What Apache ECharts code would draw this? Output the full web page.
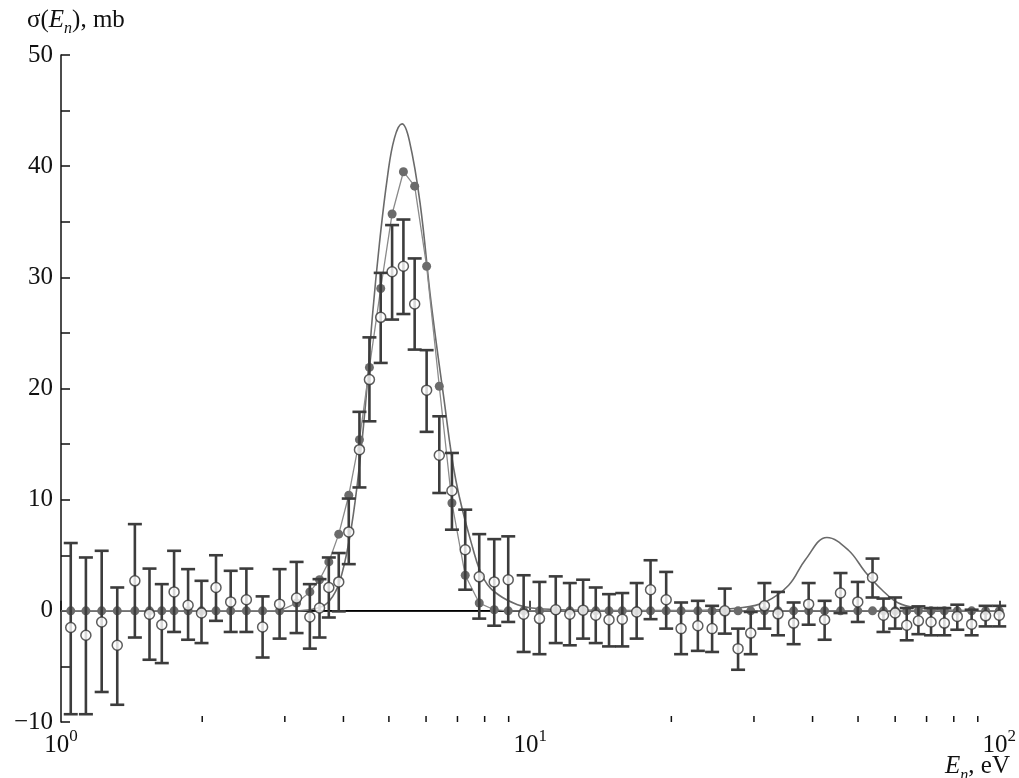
<!DOCTYPE html>
<html>
<head>
<meta charset="utf-8">
<script src="https://cdn.jsdelivr.net/npm/echarts@6/dist/echarts.min.js"></script>
<style>
  html, body { margin: 0; padding: 0; background: #fff; }
  #chart { width: 1019px; height: 778px; }
</style>
</head>
<body>
<div id="chart"></div>
<script>
// neutron energy of each measured point, eV
const energy = [1.049, 1.130, 1.221, 1.318, 1.437, 1.544, 1.640, 1.742, 1.866, 1.993,
  2.140, 2.300, 2.484, 2.690, 2.924, 3.178, 3.392, 3.557, 3.723, 3.909,
  4.106, 4.327, 4.544, 4.803, 5.079, 5.369, 5.674, 6.017, 6.403, 6.813,
  7.272, 7.790, 8.385, 8.981, 9.687, 10.47, 11.34, 12.15, 12.97, 13.80,
  14.73, 15.72, 16.87, 18.06, 19.50, 20.98, 22.78, 24.43, 26.00, 27.75,
  29.53, 31.58, 33.76, 36.45, 39.24, 42.44, 45.88, 49.94, 53.69, 56.65,
  59.99, 63.50, 67.25, 71.55, 76.38, 81.39, 87.33, 93.52, 100.0]

// open circles (measured) with error bar ends
const measured = [-1.5, -2.2, -1.0, -3.1, 2.7, -0.3, -1.25, 1.7, 0.5, -0.2,
  2.1, 0.8, 1.0, -1.45, 0.6, 1.15, -0.55, 0.25, 2.1, 2.6,
  7.1, 14.5, 20.8, 26.4, 30.5, 31.0, 27.6, 19.85, 14.0, 10.8,
  5.5, 3.06, 2.6, 2.8, -0.3, -0.7, 0.1, -0.3, 0.06, -0.4,
  -0.8, -0.75, -0.1, 1.9, 1.0, -1.6, -1.34, -1.6, 0, -3.4,
  -2.0, 0.45, -0.27, -1.1, 0.6, -0.8, 1.6, 0.8, 3.0, -0.4,
  -0.2, -1.3, -0.9, -1.0, -1.1, -0.5, -1.2, -0.45, -0.4]
const errLow = [-9.3, -9.3, -7.3, -8.45, -2.4, -4.4, -4.7, -1.9, -2.6, -2.9,
  -0.9, -1.9, -1.9, -4.2, -2.5, -2.0, -3.4, -2.4, -0.6, -0.05,
  4.2, 11.1, 17.05, 22.3, 26.2, 26.7, 23.5, 16.1, 10.6, 7.3,
  1.9, -0.7, -1.34, -1.0, -3.7, -3.9, -2.9, -3.1, -2.5, -2.9,
  -3.2, -3.2, -2.5, -0.75, -1.6, -3.9, -3.6, -3.7, -2.05, -5.3,
  -3.9, -1.6, -2.2, -3.0, -1.25, -2.6, -0.2, -1.0, 1.2, -1.9,
  -1.6, -2.65, -2.1, -2.2, -2.2, -1.7, -2.2, -1.4, -1.4]
const errHigh = [6.1, 4.8, 5.4, 2.1, 7.8, 3.8, 2.4, 5.4, 3.75, 2.7,
  5.0, 3.6, 3.8, 1.3, 3.75, 4.4, 2.4, 2.85, 4.8, 5.2,
  10.1, 17.9, 24.6, 30.4, 34.7, 35.2, 31.7, 23.45, 17.5, 14.2,
  9.1, 6.9, 6.45, 6.7, 3.2, 2.6, 3.1, 2.5, 2.8, 2.1,
  1.5, 1.6, 2.5, 4.55, 3.5, 0.75, 0.9, 0.45, 2.0, -1.6,
  -0.1, 2.5, 1.7, 0.75, 2.5, 0.9, 3.4, 2.6, 4.7, 1.1,
  1.2, 0.25, 0.4, 0.25, 0.25, 0.55, 0.1, 0.45, 0.45]

// filled grey circles (same energies)
const simulated = [0, 0, 0, 0, 0, 0, 0, 0, 0, 0,
  0, 0, 0, 0, 0, 0.7, 1.7, 2.8, 4.4, 6.9,
  10.4, 15.4, 21.9, 29.0, 35.7, 39.5, 38.2, 31.0, 20.2, 9.7,
  3.2, 0.7, 0.1, 0, 0, 0, 0, 0, 0, 0,
  0, 0, 0, 0, 0, 0, 0, 0, 0, 0,
  0, 0, 0, 0, 0, 0, 0, 0, 0, 0,
  0, 0, 0, 0, 0, 0, 0, 0, 0]

// solid calculated curve
const theoryE = [1, 3.225, 3.557, 3.736, 3.924, 4.120, 4.284, 4.456, 4.611, 4.772,
  4.963, 5.136, 5.333, 5.528, 5.826, 6.148, 6.530, 6.948, 7.540, 7.983,
  8.590, 9.475, 10.10, 11.53, 14.03, 22.89, 27.85, 31.73, 35.57, 38.61,
  42.92, 47.71, 51.80, 56.19, 60.97, 67.25, 74.18, 100]
const theoryV = [0, 0, 0.3, 0.9, 2.6, 6.5, 11.5, 18.5, 26.5, 33,
  39, 42.5, 43.8, 42.3, 36.7, 27.8, 19.5, 11.7, 5.7, 2.8,
  1.4, 0.5, 0.25, 0.1, 0.05, 0.03, 0.25, 0.8, 2.3, 4.6,
  6.6, 5.45, 3.5, 1.9, 0.7, 0.25, 0.1, 0]

// zero line
const baseE = [1, 10]
const baseV = [0, 0]

// axes
const xMin = 1, xMax = 100
const yMin = -10, yMax = 50, yStep = 10
const xMinorTicks = [2, 3, 4, 5, 6, 7, 8, 9, 20, 30, 40, 50, 60, 70, 80, 90]

const serif = '"Liberation Serif", "DejaVu Serif", serif'
const ink = '#111'

const zip = (a, b) => a.map((v, i) => [v, b[i]])

// rich styles shared by the two axis captions
const captionRich = {
    t: { fontFamily: serif, fontSize: 25, fontWeight: 'normal', color: ink, lineHeight: 34, verticalAlign: 'middle' },
    i: { fontFamily: serif, fontSize: 25, fontWeight: 'normal', fontStyle: 'italic', color: ink, lineHeight: 34, verticalAlign: 'middle' },
    s: { fontFamily: serif, fontSize: 16, fontWeight: 'normal', fontStyle: 'italic', color: ink, lineHeight: 34, verticalAlign: 'bottom' }
}

const chart = echarts.init(document.getElementById('chart'))

chart.setOption({
    animation: false,
    backgroundColor: '#fff',
    title: [
        {
            left: 22, top: -2,
            text: '{t|σ(}{i|E}{s|n}{t|), mb}',
            textStyle: { fontWeight: 'normal', rich: captionRich }
        },
        {
            right: 4, bottom: -6,
            text: '{i|E}{s|n}{t|, eV}',
            textStyle: { fontWeight: 'normal', rich: captionRich }
        }
    ],
    grid: { left: 61, right: 18, top: 55, bottom: 56 },
    xAxis: {
        type: 'log',
        logBase: 10,
        min: xMin,
        max: xMax,
        splitLine: { show: false },
        axisLine: { lineStyle: { color: ink, width: 1.5 } },
        axisTick: { inside: true, length: 10, lineStyle: { color: ink, width: 1.5 } },
        axisLabel: {
            margin: 6,
            formatter: v => '{b|10}{e|' + Math.round(Math.log10(v)) + '}',
            rich: {
                b: { fontFamily: serif, fontSize: 25, color: ink, lineHeight: 30, verticalAlign: 'bottom' },
                e: { fontFamily: serif, fontSize: 17, color: ink, lineHeight: 30, verticalAlign: 'top' }
            }
        }
    },
    yAxis: {
        type: 'value',
        min: yMin,
        max: yMax,
        interval: yStep,
        splitLine: { show: false },
        axisLine: { lineStyle: { color: ink, width: 1.5 } },
        axisTick: { inside: true, length: 9, lineStyle: { color: ink, width: 1.5 } },
        minorTick: { show: true, splitNumber: 2, length: 9, lineStyle: { color: ink, width: 1.5 } },
        axisLabel: {
            margin: 8,
            fontFamily: serif,
            fontSize: 25,
            color: ink,
            formatter: v => (v < 0 ? '\u2212' + Math.abs(v) : String(v))
        }
    },
    series: [
        {   // minor log ticks on x axis
            type: 'custom',
            silent: true,
            clip: false,
            data: xMinorTicks.map(v => [v, yMin]),
            renderItem: (params, api) => {
                const p = api.coord([api.value(0), api.value(1)])
                return {
                    type: 'line',
                    shape: { x1: p[0], y1: p[1], x2: p[0], y2: p[1] - 6 },
                    style: { stroke: ink, lineWidth: 1.5 }
                }
            },
            z: 1
        },
        {
            type: 'line',
            data: zip(baseE, baseV),
            symbol: 'none',
            lineStyle: { color: '#000', width: 1.5 },
            z: 2
        },
        {
            type: 'line',
            data: zip(theoryE, theoryV),
            symbol: 'none',
            smooth: 0.4,
            lineStyle: { color: '#6a6a6a', width: 1.6 },
            z: 3
        },
        {
            type: 'line',
            data: zip(energy, simulated),
            symbol: 'circle',
            symbolSize: 9,
            itemStyle: { color: '#6b6b6b' },
            lineStyle: { color: '#8a8a8a', width: 1.3 },
            z: 4
        },
        {   // error bars
            type: 'custom',
            silent: true,
            data: energy.map((e, i) => [e, errLow[i], errHigh[i]]),
            encode: { x: 0, y: [1, 2] },
            renderItem: (params, api) => {
                const lo = api.coord([api.value(0), api.value(1)])
                const hi = api.coord([api.value(0), api.value(2)])
                const w = 7
                const st = { stroke: '#3c3c3c', lineWidth: 2.6 }
                return {
                    type: 'group',
                    children: [
                        { type: 'line', shape: { x1: lo[0], y1: lo[1], x2: hi[0], y2: hi[1] }, style: st },
                        { type: 'line', shape: { x1: lo[0] - w, y1: lo[1], x2: lo[0] + w, y2: lo[1] }, style: st },
                        { type: 'line', shape: { x1: hi[0] - w, y1: hi[1], x2: hi[0] + w, y2: hi[1] }, style: st }
                    ]
                }
            },
            z: 5
        },
        {
            type: 'scatter',
            data: zip(energy, measured),
            symbol: 'circle',
            symbolSize: 10,
            itemStyle: { color: '#fff', borderColor: '#333', borderWidth: 1.5 },
            z: 6
        }
    ]
})
</script>
</body>
</html>
